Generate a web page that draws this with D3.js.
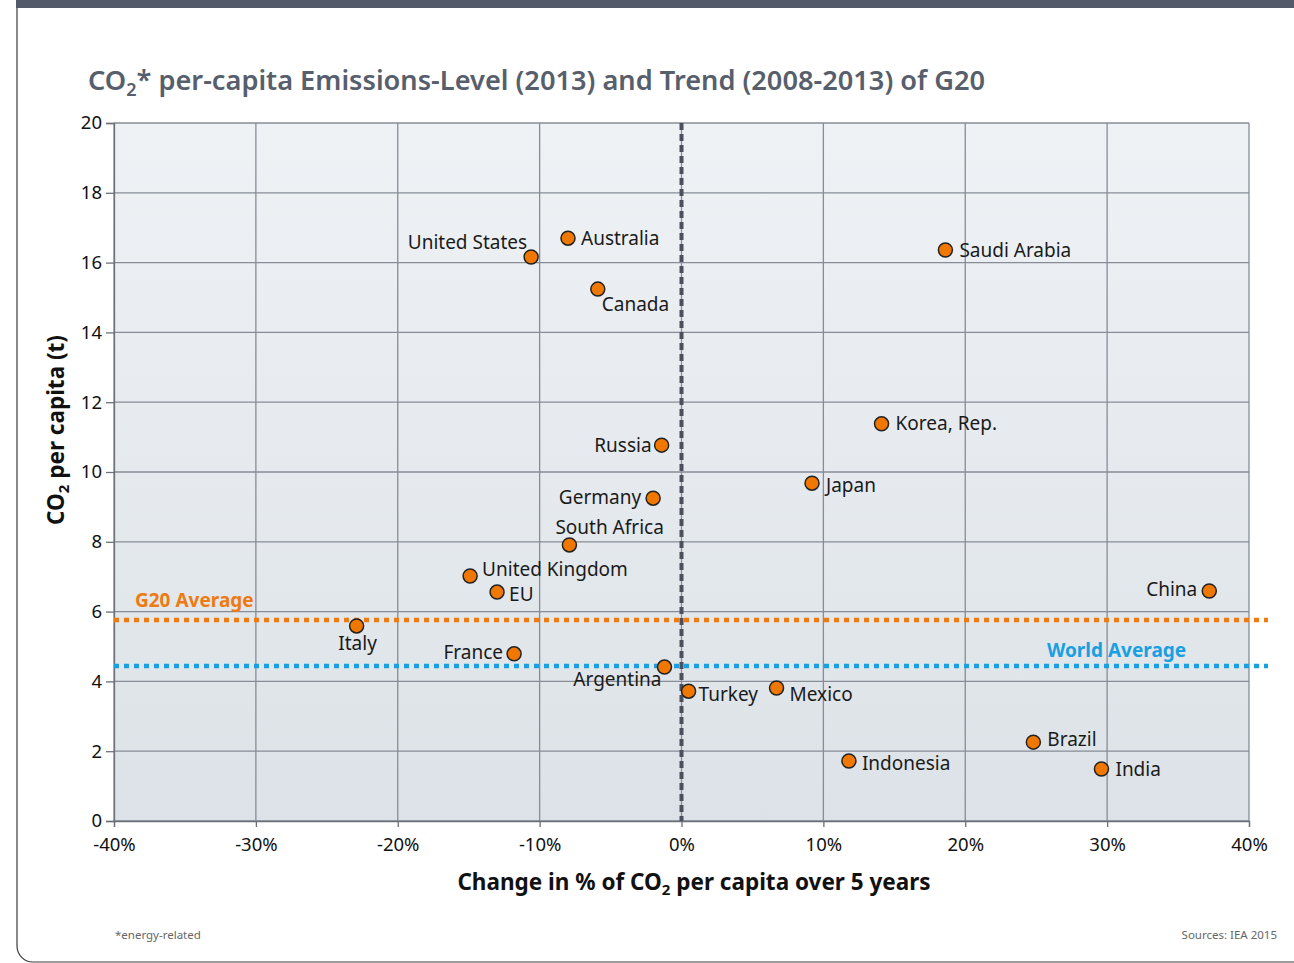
<!DOCTYPE html>
<html>
<head>
<meta charset="utf-8">
<script src="https://cdn.jsdelivr.net/npm/d3@7"></script>
<style>
  body { margin: 0; background: #fff; }
  text { font-family: "Noto Sans", sans-serif; }
</style>
</head>
<body>
<div id="chart"></div>
<script>
// data
const countries = ["United States", "Australia", "Canada", "Saudi Arabia", "Korea, Rep.", "Russia",
  "Japan", "Germany", "South Africa", "United Kingdom", "EU", "China", "Italy", "France",
  "Argentina", "Turkey", "Mexico", "Brazil", "Indonesia", "India"];
const change = [-10.6, -8.0, -5.9, 18.6, 14.1, -1.4, 9.2, -2.0, -7.9, -14.9, -13.0, 37.2, -22.9, -11.8,
  -1.2, 0.5, 6.7, 24.8, 11.8, 29.6];
const perCapita = [16.16, 16.7, 15.24, 16.36, 11.38, 10.77, 9.68, 9.25, 7.91, 7.02, 6.56, 6.59, 5.59, 4.79,
  4.41, 3.72, 3.81, 2.26, 1.72, 1.49];
const xTicks = [-40, -30, -20, -10, 0, 10, 20, 30, 40];
const yTicks = [0, 2, 4, 6, 8, 10, 12, 14, 16, 18, 20];
const g20Average = 5.76;
const worldAverage = 4.44;

// label placement next to each dot: [dx, dy, anchor]
const labelPos = {
  "United States": [-4, -15, "end"], "Australia": [13, 0, "start"], "Canada": [4, 15, "start"],
  "Saudi Arabia": [14, 0, "start"], "Korea, Rep.": [14, 0, "start"], "Russia": [-10, 0, "end"],
  "Japan": [14, 2, "start"], "Germany": [-12, -1, "end"], "South Africa": [-14, -18, "start"],
  "United Kingdom": [12, -7, "start"], "EU": [12, 2, "start"], "China": [-12, -2, "end"],
  "Italy": [1, 17, "middle"], "France": [-11, -1, "end"], "Argentina": [-3, 12, "end"],
  "Turkey": [10, 3, "start"], "Mexico": [13, 6, "start"], "Brazil": [14, -3, "start"],
  "Indonesia": [13, 2, "start"], "India": [14, 0, "start"]
};

const W = 1294, H = 963;
const plot = {left: 114, right: 1249, top: 123, bottom: 821};

const svg = d3.select("#chart").append("svg")
  .attr("width", W).attr("height", H);

// card
svg.append("rect")
  .attr("x", 17).attr("y", -20).attr("width", 1320).attr("height", 982)
  .attr("rx", 16).attr("fill", "#fff").attr("stroke", "#3a3a3a").attr("stroke-width", 1.2);
svg.append("rect")
  .attr("x", 16).attr("y", 0).attr("width", W).attr("height", 8)
  .attr("fill", "#535a69");

const defs = svg.append("defs");
const grad = defs.append("linearGradient").attr("id", "bg")
  .attr("x1", "0%").attr("y1", "0%").attr("x2", "0%").attr("y2", "100%");
grad.append("stop").attr("offset", "0%").attr("stop-color", "#eff2f5");
grad.append("stop").attr("offset", "100%").attr("stop-color", "#dce2e7");

const x = d3.scaleLinear().domain([-40, 40]).range([plot.left, plot.right]);
const y = d3.scaleLinear().domain([0, 20]).range([plot.bottom, plot.top]);

svg.append("rect")
  .attr("x", plot.left).attr("y", plot.top)
  .attr("width", plot.right - plot.left).attr("height", plot.bottom - plot.top)
  .attr("fill", "url(#bg)");

// grid
svg.append("g").selectAll("line").data(yTicks).enter().append("line")
  .attr("x1", plot.left).attr("x2", plot.right)
  .attr("y1", d => y(d)).attr("y2", d => y(d))
  .attr("stroke", "#878c96").attr("stroke-width", 1.3);
svg.append("g").selectAll("line").data(xTicks).enter().append("line")
  .attr("x1", d => x(d)).attr("x2", d => x(d))
  .attr("y1", plot.top).attr("y2", plot.bottom)
  .attr("stroke", "#878c96").attr("stroke-width", 1.3);

// axes
const yAxis = svg.append("g")
  .attr("transform", "translate(" + plot.left + ",0)")
  .call(d3.axisLeft(y).tickValues(yTicks).tickSize(8).tickPadding(4));
const xAxis = svg.append("g")
  .attr("transform", "translate(0," + plot.bottom + ")")
  .call(d3.axisBottom(x).tickValues(xTicks).tickSize(6).tickPadding(11).tickFormat(d => d + "%"));
[yAxis, xAxis].forEach(a => {
  a.select(".domain").attr("stroke", "#6b707a").attr("stroke-width", 1.3);
  a.selectAll(".tick line").attr("stroke", "#6b707a").attr("stroke-width", 1.3);
  a.selectAll(".tick text").attr("fill", "#111").attr("font-size", 18.5)
    .attr("font-family", "'DejaVu Sans', sans-serif");
});

// zero line
svg.append("line")
  .attr("x1", x(0)).attr("x2", x(0)).attr("y1", plot.top).attr("y2", plot.bottom)
  .attr("stroke", "#4b505c").attr("stroke-width", 4).attr("stroke-dasharray", "7,4");

// average lines
svg.append("line")
  .attr("x1", plot.left).attr("x2", 1268).attr("y1", y(g20Average)).attr("y2", y(g20Average))
  .attr("stroke", "#ee7a12").attr("stroke-width", 4.5).attr("stroke-dasharray", "5,5");
svg.append("line")
  .attr("x1", plot.left).attr("x2", 1268).attr("y1", y(worldAverage)).attr("y2", y(worldAverage))
  .attr("stroke", "#1a9fe0").attr("stroke-width", 4.5).attr("stroke-dasharray", "5,5");

svg.append("text").attr("x", 135).attr("y", y(g20Average) - 13)
  .attr("fill", "#ee7a12").attr("font-weight", "bold").attr("font-size", 19)
  .text("G20 Average");
svg.append("text").attr("x", 1047).attr("y", y(worldAverage) - 9)
  .attr("fill", "#1a9fe0").attr("font-weight", "bold").attr("font-size", 19)
  .text("World Average");

// points
const rows = countries.map((c, i) => ({name: c, change: change[i], value: perCapita[i]}));

svg.append("g").selectAll("circle").data(rows).enter().append("circle")
  .attr("cx", d => x(d.change)).attr("cy", d => y(d.value)).attr("r", 7)
  .attr("fill", "#f07800").attr("stroke", "#222").attr("stroke-width", 1.5);

svg.append("g").selectAll("text").data(rows).enter().append("text")
  .attr("x", d => x(d.change) + labelPos[d.name][0])
  .attr("y", d => y(d.value) + labelPos[d.name][1])
  .attr("dy", "0.35em")
  .attr("text-anchor", d => labelPos[d.name][2])
  .attr("font-size", 19).attr("fill", "#1a1a1a")
  .text(d => d.name);

// title
const title = svg.append("text").attr("x", 88).attr("y", 90)
  .attr("fill", "#575e6c").attr("font-size", 27.2).attr("font-weight", 600);
title.append("tspan").text("CO");
title.append("tspan").attr("font-size", 18).attr("dy", 6).text("2");
title.append("tspan").attr("dy", -6).text("* per-capita Emissions-Level (2013) and Trend (2008-2013) of G20");

// axis titles
const yl = svg.append("text")
  .attr("transform", "translate(64,430) rotate(-90)")
  .attr("text-anchor", "middle").attr("font-size", 22.5).attr("font-weight", "bold")
  .attr("fill", "#111");
yl.append("tspan").text("CO");
yl.append("tspan").attr("font-size", 15).attr("dy", 5).text("2");
yl.append("tspan").attr("dy", -5).text(" per capita (t)");

const xl = svg.append("text")
  .attr("x", 694).attr("y", 890)
  .attr("text-anchor", "middle").attr("font-size", 22.5).attr("font-weight", "bold")
  .attr("fill", "#111");
xl.append("tspan").text("Change in % of CO");
xl.append("tspan").attr("font-size", 15).attr("dy", 5).text("2");
xl.append("tspan").attr("dy", -5).text(" per capita over 5 years");

// footer
svg.append("text").attr("x", 115).attr("y", 939)
  .attr("font-size", 11.5).attr("fill", "#666").text("*energy-related");
svg.append("text").attr("x", 1277).attr("y", 939).attr("text-anchor", "end")
  .attr("font-size", 11.5).attr("fill", "#666").text("Sources: IEA 2015");
</script>
</body>
</html>
